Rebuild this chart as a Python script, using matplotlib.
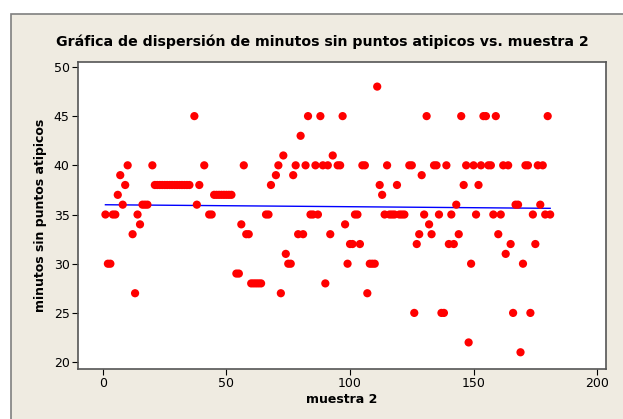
import matplotlib
matplotlib.use("Agg")
import matplotlib.pyplot as plt
import numpy as np
from matplotlib.patches import Rectangle

# muestra 2 (indice) y minutos sin puntos atipicos
muestra = [1, 2, 3, 4, 5, 6, 7, 8, 9, 10, 12, 13, 14, 15, 16, 17, 18, 20,
           21, 22, 23, 24, 25, 26, 27, 28, 29, 30, 31, 32, 33, 34, 35,
           37, 38, 39, 41, 43, 44, 45, 46, 47, 48, 49, 50, 51, 52,
           54, 55, 56, 57, 58, 59, 60, 61, 62, 63, 64, 66, 67, 68, 70, 71,
           72, 73, 74, 75, 76, 77, 78, 79, 80, 81, 82, 83, 84, 85, 86, 87,
           88, 89, 90, 91, 92, 93, 95, 96, 97, 98, 99, 100, 101, 102, 103,
           104, 105, 106, 107, 108, 109, 110, 111, 112, 113, 114, 115, 116,
           117, 118, 119, 120, 121, 122, 124, 125, 126, 127, 128, 129, 130,
           131, 132, 133, 134, 135, 136, 137, 138, 139, 140, 141, 142, 143,
           144, 145, 146, 147, 148, 149, 150, 151, 152, 153, 154, 155, 156,
           157, 158, 159, 160, 161, 162, 163, 164, 165, 166, 167, 168, 169,
           170, 171, 172, 173, 174, 175, 176, 177, 178, 179, 180, 181]
minutos = [35, 30, 30, 35, 35, 37, 39, 36, 38, 40, 33, 27, 35, 34, 36, 36, 36, 40,
           38, 38, 38, 38, 38, 38, 38, 38, 38, 38, 38, 38, 38, 38, 38,
           45, 36, 38, 40, 35, 35, 37, 37, 37, 37, 37, 37, 37, 37,
           29, 29, 34, 40, 33, 33, 28, 28, 28, 28, 28, 35, 35, 38, 39, 40,
           27, 41, 31, 30, 30, 39, 40, 33, 43, 33, 40, 45, 35, 35, 40, 35,
           45, 40, 28, 40, 33, 41, 40, 40, 45, 34, 30, 32, 32, 35, 35,
           32, 40, 40, 27, 30, 30, 30, 48, 38, 37, 35, 40, 35,
           35, 35, 38, 35, 35, 35, 40, 40, 25, 32, 33, 39, 35,
           45, 34, 33, 40, 40, 35, 25, 25, 40, 32, 35, 32, 36,
           33, 45, 38, 40, 22, 30, 40, 35, 38, 40, 45, 45, 40,
           40, 35, 45, 33, 35, 40, 31, 40, 32, 25, 36, 36, 21,
           30, 40, 40, 25, 35, 32, 40, 36, 40, 35, 45, 35]

x = np.array(muestra)
y = np.array(minutos)
# recta de regresion ajustada a los puntos
slope, intercept = np.polyfit(x, y, 1)

fig = plt.figure(figsize=(6.23, 4.19), dpi=100, facecolor='white')
fig.patches.append(Rectangle((11 / 623, -0.01), 1.0, 1 - 14 / 419 + 0.01,
                             transform=fig.transFigure, facecolor='#EFEBE1',
                             edgecolor='#7f7f7f', lw=1.2, zorder=-5))

ax = fig.add_axes([78 / 623, 1 - 369 / 419, 528 / 623, 307 / 419])
ax.set_zorder(2)
ax.set_facecolor('white')

ax.scatter(x, y, s=35, color='#FF0000', edgecolors='none', zorder=3)
xf = np.array([x.min(), x.max()])
ax.plot(xf, intercept + slope * xf, color='#0000FF', lw=1, zorder=2)

ax.set_xlim(-10.1, 203.6)
ax.set_ylim(19.3, 50.5)
ax.set_xticks([0, 50, 100, 150, 200])
ax.set_yticks([20, 25, 30, 35, 40, 45, 50])
ax.tick_params(direction='out', length=4, width=0.8, labelsize=9, pad=2,
               top=False, right=False)
for s in ax.spines.values():
    s.set_color('#555555')
    s.set_linewidth(1.2)

ax.set_xlabel('muestra 2', fontsize=9, fontweight='bold', labelpad=2)
ax.set_ylabel('minutos sin puntos atipicos', fontsize=9, fontweight='bold', labelpad=5)
fig.text(322 / 623, 1 - 42 / 419, 'Gráfica de dispersión de minutos sin puntos atipicos vs. muestra 2',
         ha='center', va='center', fontsize=10.2, fontweight='bold', zorder=3)

fig.savefig('out.png', dpi=100, facecolor=fig.get_facecolor())
